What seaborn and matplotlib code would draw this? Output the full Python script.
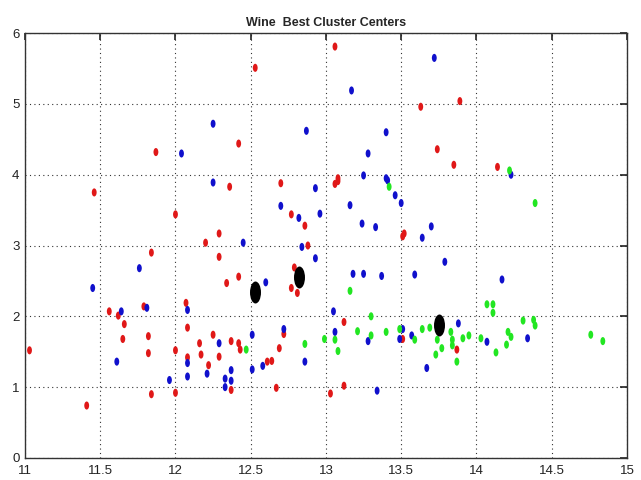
import numpy as np
import pandas as pd
import matplotlib
matplotlib.use("Agg")
import matplotlib.pyplot as plt
import seaborn as sns
from matplotlib.path import Path
from matplotlib.markers import MarkerStyle

# ---- data ----
red_x = [11.87, 12.53, 12.42, 13.06, 13.89, 13.63, 13.74, 13.85, 13.08, 14.14, 11.46, 12.00, 11.84, 11.79,
         11.56, 11.62, 12.36, 12.70, 12.77, 12.86, 12.29, 12.20, 12.88, 12.29, 12.79, 12.42, 12.34, 12.77,
         12.81, 12.07, 13.06, 13.08, 13.51, 13.52, 11.03, 11.41, 11.66, 11.65, 11.82, 11.82, 11.84, 12.00,
         12.00, 12.08, 12.08, 12.16, 12.17, 12.25, 12.22, 12.29, 12.37, 12.37, 12.42, 12.43, 12.61, 12.64,
         12.67, 12.69, 12.72, 13.03, 13.12, 13.51, 13.87, 13.12]
red_y = [4.32, 5.51, 4.44, 5.81, 5.04, 4.96, 4.36, 4.14, 3.95, 4.11, 3.75, 3.44, 2.90, 2.14,
         2.07, 2.01, 3.83, 3.88, 3.44, 3.28, 3.17, 3.04, 3.00, 2.84, 2.69, 2.56, 2.47, 2.40,
         2.33, 2.19, 3.87, 3.91, 3.13, 3.17, 1.52, 0.74, 1.89, 1.68, 1.72, 1.48, 0.90, 1.52,
         0.92, 1.84, 1.42, 1.62, 1.46, 1.74, 1.31, 1.43, 1.65, 0.96, 1.62, 1.53, 1.36, 1.37,
         0.99, 1.55, 1.75, 0.91, 1.92, 1.68, 1.53, 1.02]

blue_x = [12.25, 12.04, 12.87, 13.17, 13.72, 13.40, 13.28, 13.25, 13.40, 14.23, 11.76, 11.45, 11.81, 11.64,
          12.25, 12.93, 12.70, 12.96, 12.82, 12.45, 12.84, 12.93, 12.60, 12.08, 13.41, 13.46, 13.16, 13.50,
          13.24, 13.33, 13.70, 13.64, 13.79, 13.18, 13.25, 13.37, 13.59, 13.05, 14.17, 11.61, 11.96, 12.08,
          12.08, 12.29, 12.21, 12.33, 12.33, 12.37, 12.37, 12.51, 12.51, 12.58, 12.72, 12.86, 13.06, 13.28,
          13.51, 13.49, 13.57, 13.88, 13.67, 13.34, 14.07, 14.34]
blue_y = [4.72, 4.30, 4.62, 5.19, 5.65, 4.60, 4.30, 3.99, 3.95, 4.00, 2.68, 2.40, 2.12, 2.07,
          3.89, 3.81, 3.56, 3.45, 3.39, 3.04, 2.98, 2.82, 2.48, 2.09, 3.92, 3.71, 3.57, 3.60,
          3.31, 3.26, 3.27, 3.11, 2.77, 2.60, 2.60, 2.57, 2.59, 2.07, 2.52, 1.36, 1.10, 1.34,
          1.15, 1.62, 1.19, 1.12, 1.00, 1.24, 1.09, 1.74, 1.25, 1.30, 1.82, 1.36, 1.78, 1.65,
          1.82, 1.68, 1.73, 1.90, 1.27, 0.95, 1.64, 1.69]

green_x = [14.22, 13.42, 13.16, 14.39, 14.07, 14.11, 14.11, 12.47, 12.86, 12.99, 13.06, 13.08, 13.30,
           13.21, 13.30, 13.40, 13.49, 13.59, 13.64, 13.69, 13.74, 13.77, 13.73, 13.83, 13.84, 13.84,
           13.87, 13.91, 13.95, 14.03, 14.13, 14.20, 14.21, 14.23, 14.31, 14.38, 14.39, 14.76, 14.84]
green_y = [4.06, 3.83, 2.36, 3.60, 2.17, 2.17, 2.05, 1.53, 1.61, 1.68, 1.67, 1.51, 2.00,
           1.79, 1.73, 1.78, 1.82, 1.67, 1.82, 1.84, 1.67, 1.55, 1.46, 1.78, 1.67, 1.59,
           1.36, 1.69, 1.73, 1.69, 1.49, 1.60, 1.78, 1.71, 1.94, 1.95, 1.87, 1.74, 1.65]

center_x = [12.53, 12.82, 13.75]
center_y = [2.34, 2.56, 1.88]

x_ticks = [11, 11.5, 12, 12.5, 13, 13.5, 14, 14.5, 15]
x_tick_labels = ["11", "11.5", "12", "12.5", "13", "13.5", "14", "14.5", "15"]
y_ticks = [0, 1, 2, 3, 4, 5, 6]
y_tick_labels = ["0", "1", "2", "3", "4", "5", "6"]
title = "Wine  Best Cluster Centers"

df = pd.DataFrame({
    "x": red_x + blue_x + green_x,
    "y": red_y + blue_y + green_y,
    "cluster": ["r"] * len(red_x) + ["b"] * len(blue_x) + ["g"] * len(green_x),
})
centers = pd.DataFrame({"x": center_x, "y": center_y})

sns.set_style("white")
plt.rcParams['font.family'] = ['Liberation Sans Narrow', 'Liberation Sans', 'DejaVu Sans']

# vertically elongated ellipse markers
circ = Path.unit_circle()
mk = MarkerStyle(Path(circ.vertices * np.array([0.6, 1.0]), circ.codes))
mk_c = MarkerStyle(Path(circ.vertices * np.array([0.5, 1.0]), circ.codes))

fig = plt.figure(figsize=(6.41, 4.8), dpi=100)
ax = fig.add_axes([0.039, 0.046, 0.939, 0.885])

palette = {"r": "#e01818", "b": "#1010cc", "g": "#22e622"}
sns.scatterplot(data=df, x="x", y="y", hue="cluster", palette=palette, marker=mk,
                s=34, linewidth=0, legend=False, ax=ax, zorder=3)
sns.scatterplot(data=centers, x="x", y="y", color="black", marker=mk_c,
                s=250, linewidth=0, legend=False, ax=ax, zorder=4)

ax.set_xlim(11, 15)
ax.set_ylim(0, 6)
ax.set_xticks(x_ticks)
ax.set_xticklabels(x_tick_labels)
ax.set_yticks(y_ticks)
ax.set_yticklabels(y_tick_labels)
ax.set_xlabel("")
ax.set_ylabel("")
ax.grid(True, linestyle=(0, (1, 3)), color="#333333", linewidth=0.8)
ax.tick_params(direction="in", length=5, width=1.2, top=True, right=True,
               labelsize=9.5, colors="#222222")
ax.tick_params(axis="x", pad=5)
ax.tick_params(axis="y", pad=4)
for sp in ax.spines.values():
    sp.set_color("#333333")
    sp.set_linewidth(1.0)
ax.set_title(title, fontsize=9, pad=5, fontweight="bold")

fig.savefig("out.png", dpi=100)
